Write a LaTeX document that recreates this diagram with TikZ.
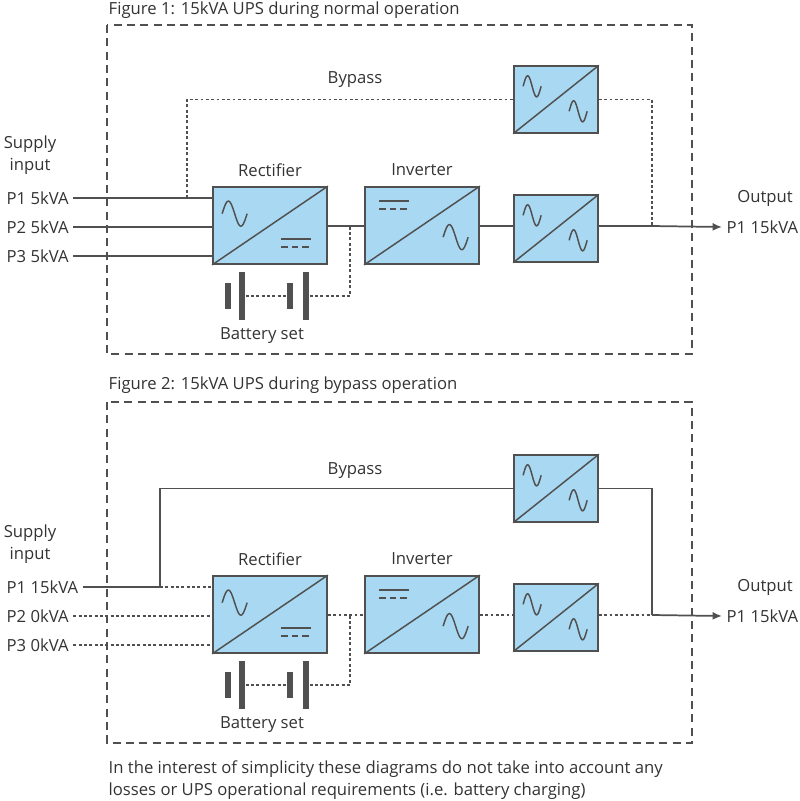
\documentclass[tikz,border=0pt]{standalone}
\usepackage{fontspec}
\setmainfont{Open Sans}
\usetikzlibrary{arrows.meta}
\definecolor{boxc}{HTML}{A8D8F2}
\definecolor{linec}{HTML}{505050}
\definecolor{textc}{HTML}{333333}
\newcommand\sinewave[4]{\draw[linec,line width=1.1pt] plot[domain=0:360,samples=40,smooth] ({#1+#3*\x/360},{#2-#4/2*sin(\x)});}
\newcommand\dcsym[3]{\draw[linec,line width=1.1pt] (#1,#2) -- ++(#3,0);
  \draw[linec,line width=1.1pt,dash pattern=on 5pt off 3pt] (#1,#2+8) -- ++(#3,0);}
\newcommand\diag[1]{\draw[linec,line width=1.1pt] (#1.south west) -- (#1.north east);}
\newcommand\recticons[1]{\diag{#1}\begin{scope}[shift={(#1.north west)}]\sinewave{10}{27.5}{25}{25}\dcsym{69}{53}{30}\end{scope}}
\newcommand\invicons[1]{\diag{#1}\begin{scope}[shift={(#1.north west)}]\dcsym{15}{15}{30}\sinewave{79}{51}{25}{25}\end{scope}}
\newcommand\swicons[1]{\diag{#1}\begin{scope}[shift={(#1.north west)}]\sinewave{10}{21}{18}{21}\sinewave{56}{46}{18}{21}\end{scope}}
\tikzset{
  every node/.style={text=textc,font=\fontsize{12.5}{16}\selectfont},
  conv/.style={draw=linec,fill=boxc,line width=1.3pt,inner sep=0pt},
  big/.style={conv,minimum width=85.5pt,minimum height=57.75pt},
  small/.style={conv,minimum width=63pt,minimum height=50pt},
  plateshort/.style={fill=linec,inner sep=0pt,minimum width=5pt,minimum height=20pt},
  platelong/.style={fill=linec,inner sep=0pt,minimum width=5pt,minimum height=36pt},
  wire/.style={draw=linec,line width=1.3pt},
  dotwire/.style={wire,dash pattern=on 2.2pt off 1.8pt},
  frame/.style={draw=linec,line width=1pt,dash pattern=on 6pt off 4pt},
  outarrow/.style={wire,-{Latex[length=7pt,width=6pt]}}
}
\begin{document}
\begin{tikzpicture}[x=0.75pt,y=-0.75pt]
\useasboundingbox (0,0) rectangle (800,801);
% figure 1
\node[anchor=west] (t1) at (104,10) {Figure 1: 15kVA UPS during normal operation};
\draw[frame] (107,25) rectangle (692,354);
\node[big] (rect) at (270,225.5) {};
\node[big] (inv) at (422,225.5) {};
\node[small] (sw) at (556,228.5) {};
\node[small] (byp) at (556,99.5) {};
\recticons{rect}\invicons{inv}\swicons{sw}\swicons{byp}
\node (rectl) at (270,170) {Rectifier};
\node (invl) at (422,170) {Inverter};
\node (bypl) at (355,80) {Bypass};
\node[align=center] (sup) at (30,155) {Supply\\input};
\node[anchor=west] (p1) at (2,198) {P1 5kVA};
\node[anchor=west] (p2) at (2,227) {P2 5kVA};
\node[anchor=west] (p3) at (2,256) {P3 5kVA};
\node (outl) at (765,198) {Output};
\node[anchor=west] (out) at (722,227) {P1 15kVA};
\node[plateshort] (b1s) at (228,296) {};
\node[platelong] (b1l) at (242,296) {};
\node[plateshort] (b2s) at (290,296) {};
\node[platelong] (b2l) at (306,296) {};
\node (batl) at (262,336) {Battery set};
\coordinate (bp) at (187,198);
\coordinate (tap) at (350,226);
\coordinate (jn) at (652,226);
\draw[wire] (p1.east) -- (rect.west |- p1);
\draw[wire] (p2.east) -- (rect.west |- p2);
\draw[wire] (p3.east) -- (rect.west |- p3);
\draw[wire] (rect.east |- tap) -- (inv.west |- tap);
\draw[wire] (inv.east |- jn) -- (sw.west |- jn);
\draw[dotwire] (bp) |- (byp.west);
\draw[dotwire] (byp.east) -| (jn);
\draw[dotwire] (b1l) -- (b2s);
\draw[dotwire] (b2l) -| (tap);
\draw[wire] (sw.east |- jn) -- (jn);
\draw[outarrow] (jn) -- (out.west);
% figure 2
\node[anchor=west] (t2) at (104,385) {Figure 2: 15kVA UPS during bypass operation};
\draw[frame] (107,402) rectangle (692,743);
\begin{scope}[shift={(0,389)}]
\node[big] (rectb) at (270,225.5) {};
\node[big] (invb) at (422,225.5) {};
\node[small] (swb) at (556,228.5) {};
\node[small] (bypb) at (556,99.5) {};
\recticons{rectb}\invicons{invb}\swicons{swb}\swicons{bypb}
\node (rectlb) at (270,170) {Rectifier};
\node (invlb) at (422,170) {Inverter};
\node (byplb) at (355,82) {Bypass};
\node[align=center] (supb) at (30,155) {Supply\\input};
\node[anchor=west] (p1b) at (2,198) {P1 15kVA};
\node[anchor=west] (p2b) at (2,227) {P2 0kVA};
\node[anchor=west] (p3b) at (2,256) {P3 0kVA};
\node (outlb) at (765,198) {Output};
\node[anchor=west] (outb) at (722,227) {P1 15kVA};
\node[plateshort] (b1sb) at (228,296) {};
\node[platelong] (b1lb) at (242,296) {};
\node[plateshort] (b2sb) at (290,296) {};
\node[platelong] (b2lb) at (306,296) {};
\node (batlb) at (262,336) {Battery set};
\coordinate (bpb) at (160,198);
\coordinate (tapb) at (350,226);
\coordinate (jnb) at (652,226);
\draw[wire] (p1b.east) -- (bpb);
\draw[dotwire] (bpb) -- (rectb.west |- p1b);
\draw[dotwire] (p2b.east) -- (rectb.west |- p2b);
\draw[dotwire] (p3b.east) -- (rectb.west |- p3b);
\draw[dotwire] (rectb.east |- tapb) -- (invb.west |- tapb);
\draw[dotwire] (invb.east |- jnb) -- (swb.west |- jnb);
\draw[wire] (bpb) |- (bypb.west);
\draw[wire] (bypb.east) -| (jnb);
\draw[dotwire] (b1lb) -- (b2sb);
\draw[dotwire] (b2lb) -| (tapb);
\draw[dotwire] (swb.east |- jnb) -- (jnb);
\draw[outarrow] (jnb) -- (outb.west);
\end{scope}
\node[anchor=west,align=left] (note) at (104,780) {In the interest of simplicity these diagrams do not take into account any\\losses or UPS operational requirements (i.e. battery charging)};
\end{tikzpicture}
\end{document}
